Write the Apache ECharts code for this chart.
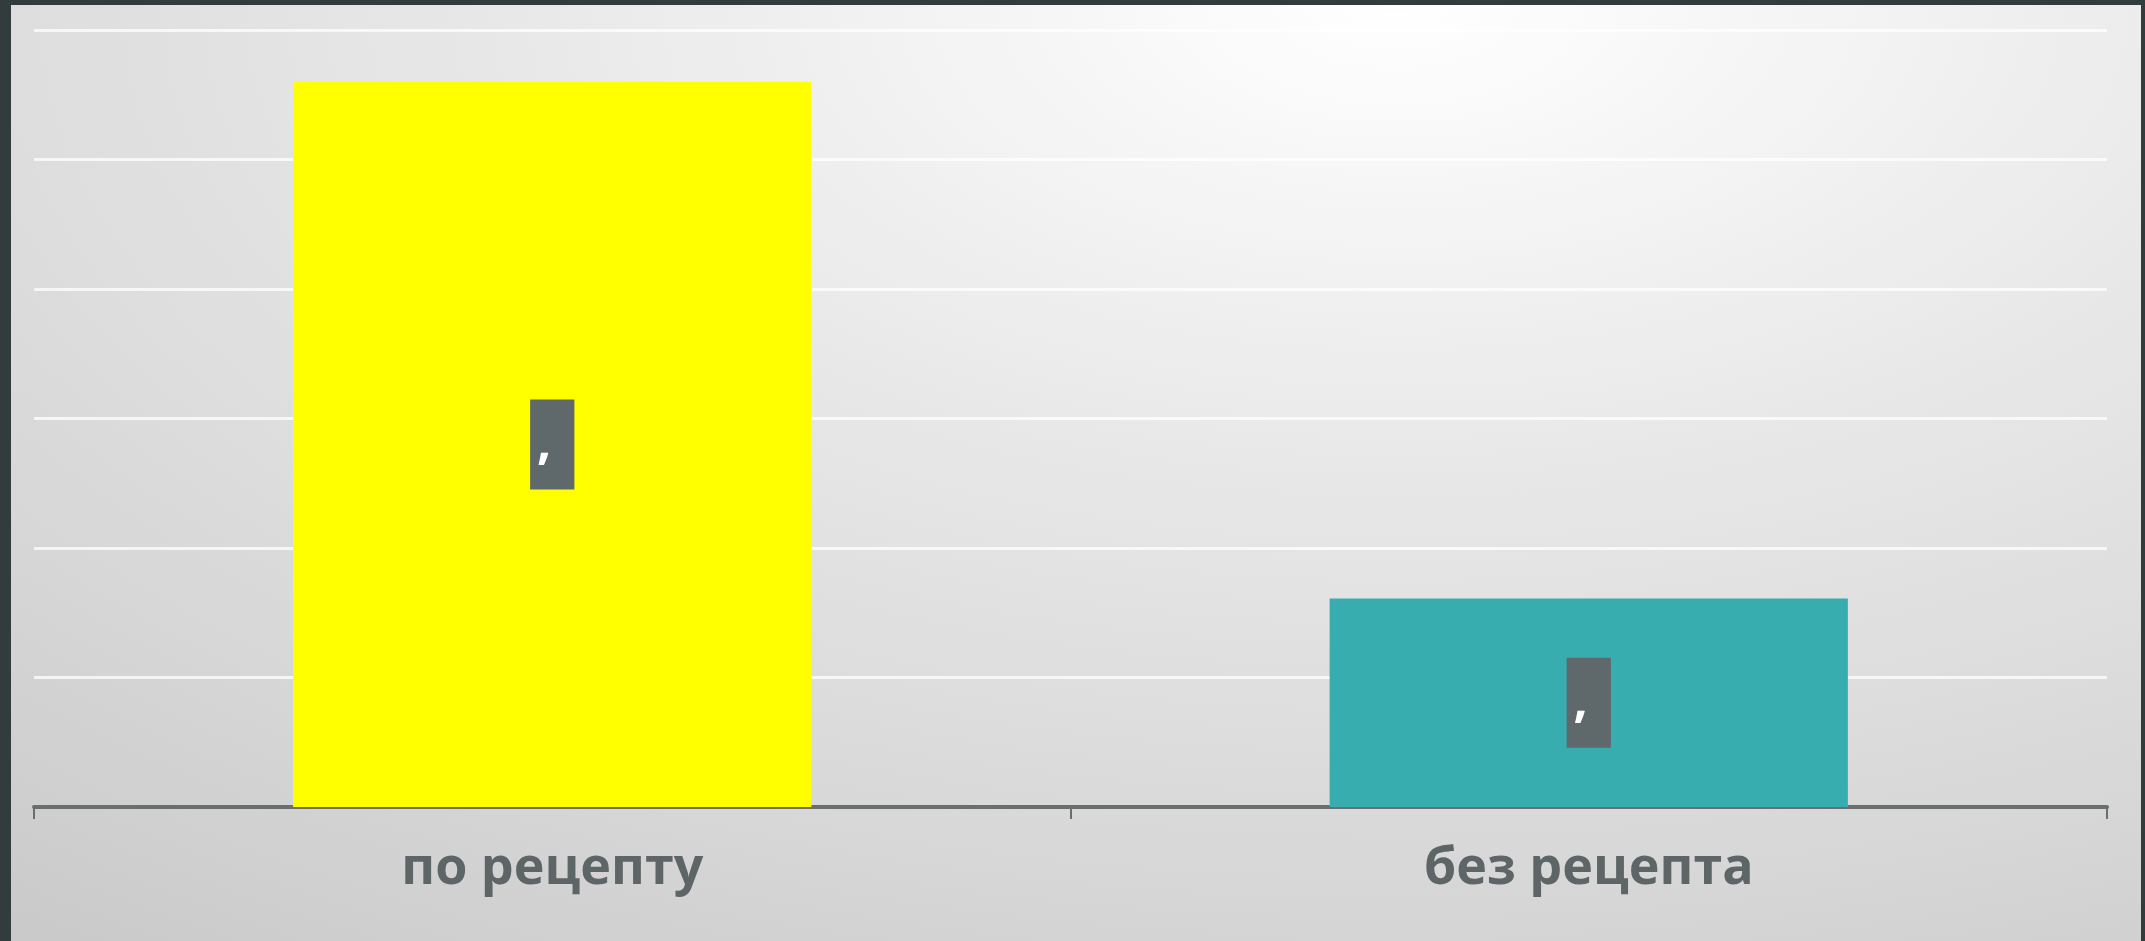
<!DOCTYPE html>
<html>
<head>
<meta charset="utf-8">
<script src="https://cdn.jsdelivr.net/npm/echarts@6/dist/echarts.min.js"></script>
<style>
  html, body { margin: 0; padding: 0; width: 2145px; height: 941px; overflow: hidden; background: #323c3c; }
  #bg {
    position: absolute; left: 11px; top: 5px; width: 2130px; height: 936px;
    background: radial-gradient(ellipse 110% 130% at 65% 0%, #ffffff 0%, #e8e8e8 38%, #d8d8d8 70%, #c8c8c8 100%);
  }
  #chart { position: absolute; left: 0; top: 0; width: 2145px; height: 941px; }
</style>
</head>
<body>
<div id="bg"></div>
<div id="chart"></div>
<script>
const categories = ['по рецепту', 'без рецепта'];
const values = [5.6, 1.61];
const barColors = ['#ffff00', '#38adb0'];
const labelText = ',';

const chart = echarts.init(document.getElementById('chart'), null, { renderer: 'canvas' });
chart.setOption({
  backgroundColor: 'transparent',
  animation: false,
  grid: { left: 34, right: 38, top: 30, bottom: 134, containLabel: false },
  xAxis: {
    type: 'category',
    data: categories,
    boundaryGap: true,
    axisLine: { show: true, lineStyle: { color: '#6a6e6e', width: 4 } },
    axisTick: { show: true, alignWithLabel: false, length: 12, lineStyle: { color: '#6a6e6e', width: 2 } },
    axisLabel: {
      margin: 36,
      color: '#5e6567',
      fontFamily: 'Open Sans',
      fontWeight: 'bold',
      fontSize: 52
    }
  },
  yAxis: {
    type: 'value',
    min: 0,
    max: 6,
    interval: 1,
    axisLabel: { show: false },
    axisLine: { show: false },
    axisTick: { show: false },
    splitLine: { show: true, lineStyle: { color: 'rgba(255,255,255,0.75)', width: 3 } }
  },
  series: [{
    type: 'bar',
    barWidth: '50%',
    data: values.map((v, i) => ({ value: v, itemStyle: { color: barColors[i] } })),
    label: {
      show: true,
      position: 'inside',
      formatter: () => labelText,
      color: '#ffffff',
      fontFamily: 'Open Sans',
      fontWeight: 'bold',
      fontSize: 50,
      lineHeight: 50,
      backgroundColor: '#5f686b',
      padding: [38, 23, 2, 7]
    }
  }]
});
</script>
</body>
</html>
